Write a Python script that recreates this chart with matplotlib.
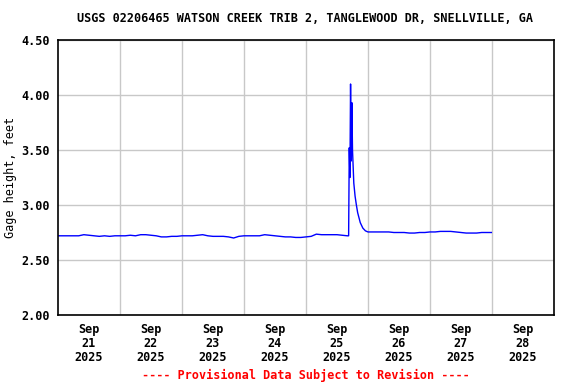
import pandas as pd
import matplotlib
matplotlib.use("Agg")
import matplotlib.pyplot as plt

# gage height (ft), 2-hour readings Sep 21 00:00 -> Sep 25 16:00
pre_values = [
    2.72, 2.72, 2.72, 2.72, 2.72, 2.73, 2.725, 2.72, 2.715, 2.72, 2.715, 2.72,
    2.72, 2.72, 2.725, 2.72, 2.73, 2.73, 2.725, 2.72, 2.71, 2.71, 2.715, 2.715,
    2.72, 2.72, 2.72, 2.725, 2.73, 2.72, 2.715, 2.715, 2.715, 2.71, 2.70, 2.715,
    2.72, 2.72, 2.72, 2.72, 2.73, 2.725, 2.72, 2.715, 2.71, 2.71, 2.705, 2.705,
    2.71, 2.715, 2.735, 2.73, 2.73, 2.73, 2.73, 2.725, 2.72,
]

# storm on Sep 25 afternoon
storm_times = [
    "2025-09-25 16:30", "2025-09-25 16:45", "2025-09-25 17:00", "2025-09-25 17:15",
    "2025-09-25 17:30", "2025-09-25 17:45", "2025-09-25 18:00", "2025-09-25 18:30",
    "2025-09-25 19:00", "2025-09-25 19:30", "2025-09-25 20:00", "2025-09-25 21:00",
    "2025-09-25 22:00", "2025-09-25 23:00", "2025-09-26 00:00",
]
storm_values = [
    2.72, 3.52, 3.25, 4.10,
    3.40, 3.93, 3.50, 3.20,
    3.08, 3.00, 2.93, 2.84,
    2.79, 2.765, 2.755,
]

# 2-hour readings Sep 26 02:00 -> Sep 27 22:00, then last reading
post_values = [
    2.755, 2.755, 2.755, 2.755, 2.75, 2.75, 2.75, 2.745, 2.745, 2.75, 2.75,
    2.755, 2.755, 2.76, 2.76, 2.76, 2.755, 2.75, 2.745, 2.745, 2.745, 2.75, 2.75,
]
last_time = "2025-09-27 23:45"
last_value = 2.75

day_labels = ["2025-09-21", "2025-09-22", "2025-09-23", "2025-09-24",
              "2025-09-25", "2025-09-26", "2025-09-27", "2025-09-28"]

pre_times = pd.date_range("2025-09-21 00:00", periods=len(pre_values), freq="2h")
post_times = pd.date_range("2025-09-26 02:00", periods=len(post_values), freq="2h")

times = list(pre_times) + list(pd.to_datetime(storm_times)) + list(post_times) + [pd.Timestamp(last_time)]
values = pre_values + storm_values + post_values + [last_value]

plt.rcParams["font.family"] = "DejaVu Sans Mono"
plt.rcParams["font.weight"] = "bold"
plt.rcParams["font.size"] = 8.5

fig = plt.figure(figsize=(5.76, 3.84), dpi=100)
ax = fig.add_axes([58 / 576, 1 - 315 / 384, 496 / 576, 275 / 384])

ax.plot(times, values, color="#0000ff", linewidth=1.0)

ax.set_xlim(pd.Timestamp("2025-09-21"), pd.Timestamp("2025-09-29"))
ax.set_ylim(2.0, 4.5)

yt = [2.0, 2.5, 3.0, 3.5, 4.0, 4.5]
ax.set_yticks(yt)
ax.set_yticklabels([f"{v:.2f}" for v in yt])

noon = pd.to_datetime(day_labels) + pd.Timedelta(hours=12)
ax.set_xticks(noon)
ax.set_xticklabels([d.strftime("%b\n%d\n%Y") for d in pd.to_datetime(day_labels)],
                   linespacing=1.1)
ax.set_xticks(pd.date_range("2025-09-22", "2025-09-28", freq="D"), minor=True)

ax.grid(False)
ax.grid(True, which="minor", axis="x", color="#c8c8c8", linewidth=1.0)
ax.grid(True, which="major", axis="y", color="#c8c8c8", linewidth=1.0)
ax.set_axisbelow(True)
ax.tick_params(which="both", length=0)
ax.tick_params(axis="x", pad=6)
ax.tick_params(axis="y", pad=6)

for s in ax.spines.values():
    s.set_linewidth(1.2)
    s.set_color("black")

ax.set_ylabel("Gage height, feet")
ax.yaxis.set_label_coords(-41 / 496, 0.5)

fig.text(305 / 576, 1 - 19 / 384, "USGS 02206465 WATSON CREEK TRIB 2, TANGLEWOOD DR, SNELLVILLE, GA",
         ha="center", va="center")
fig.text(306 / 576, 1 - 375 / 384, "---- Provisional Data Subject to Revision ----",
         ha="center", va="center", color="red")

fig.savefig("out.png", dpi=100)
